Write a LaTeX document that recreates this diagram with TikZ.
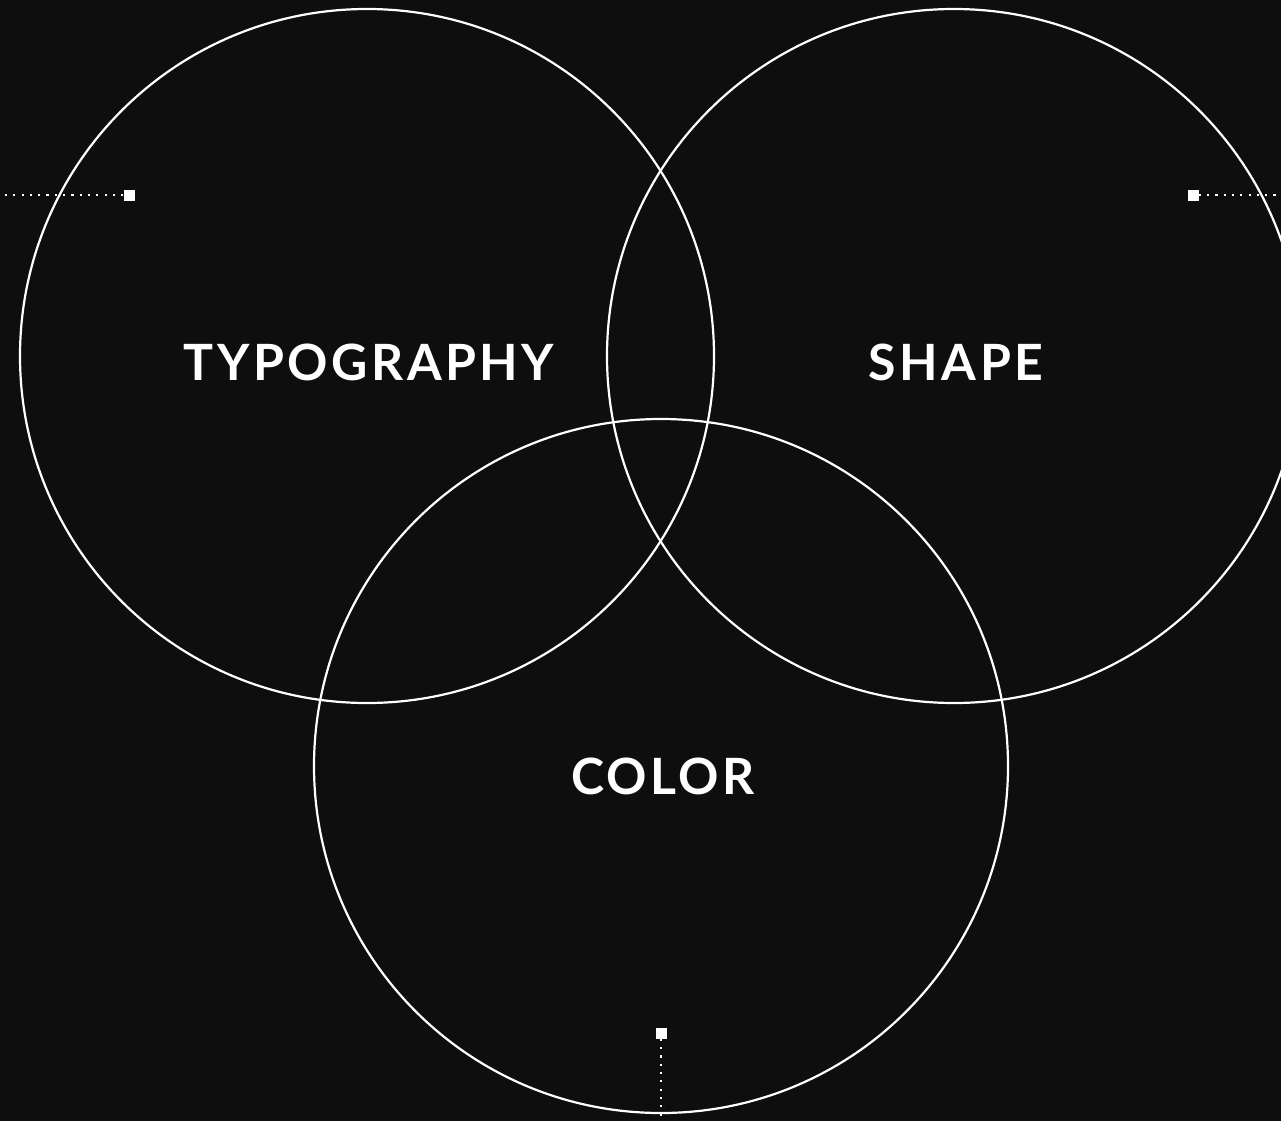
\documentclass[tikz,border=0pt]{standalone}
\usepackage{fontspec}
\newfontfamily\latob[LetterSpace=7]{Lato Bold}
\begin{document}
\begin{tikzpicture}[x=1pt,y=-1pt,
  ring/.style={draw=white,line width=2.2pt},
  label/.style={text=white,font=\latob\fontsize{50}{50}\selectfont,anchor=center,inner sep=0pt},
  marker/.style={fill=white,draw=none,minimum size=11pt,inner sep=0pt,rectangle},
  dotline/.style={draw=white,line width=2.2pt,dash pattern=on 2.2pt off 6.1pt}]
\fill[fill={rgb,255:red,14;green,14;blue,14}] (0,0) rectangle (1281,1121);
\useasboundingbox (0,0) rectangle (1281,1121);
\draw[ring] (367,356) circle (347);
\draw[ring] (954,356) circle (347);
\draw[ring] (661,766) circle (347);
\node[label] (typo) at (369,362) {TYPOGRAPHY};
\node[label] (shape) at (956,362) {SHAPE};
\node[label] (color) at (663,776) {COLOR};
\node[marker] (m1) at (129,195) {};
\node[marker] (m2) at (1193,195) {};
\node[marker] (m3) at (661,1033) {};
\coordinate (e1) at (0,195);
\coordinate (e2) at (1281,195);
\coordinate (e3) at (661,1121);
\draw[dotline] (m1.west) -- (e1);
\draw[dotline] (m2.east) -- (e2);
\draw[dotline] (m3.south) -- (e3);
\end{tikzpicture}
\end{document}
